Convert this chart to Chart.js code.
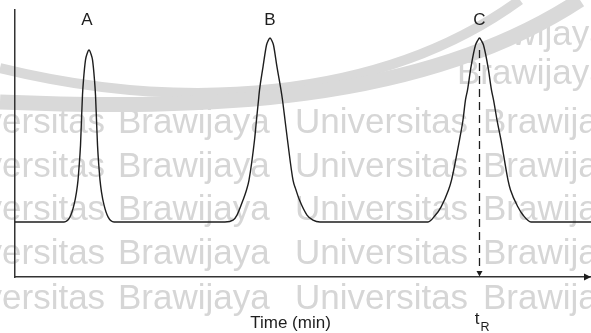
<!DOCTYPE html>
<html><head><meta charset="utf-8">
<script src="https://cdn.jsdelivr.net/npm/chart.js@4.4.1/dist/chart.umd.min.js"></script>
<style>html,body{margin:0;padding:0;background:#fff;overflow:hidden}#wrap{width:591px;height:333px;position:relative}</style>
</head><body><div id="wrap"><canvas id="c" width="591" height="333"></canvas></div>
<script>
// ---- data (time in min, detector signal in arbitrary units) ----
const timeMin = [0,
  1.021,1.146,1.229,1.281,1.313,1.333,1.365,1.385,1.406,1.427,1.469,1.500,1.542,1.583,1.615,1.656,1.677,1.698,1.719,1.750,1.771,1.802,1.854,1.938,2.063,
  4.375,4.542,4.625,4.750,4.823,4.875,4.990,5.031,5.073,5.094,5.167,5.240,5.271,5.313,5.354,5.385,5.458,5.542,5.573,5.625,5.677,5.792,5.854,5.927,6.083,6.208,6.354,
  8.604,8.760,8.875,9.031,9.094,9.260,9.333,9.385,9.427,9.500,9.594,9.635,9.677,9.719,9.760,9.854,9.927,9.969,10.042,10.125,10.271,10.323,10.479,10.583,10.750,
  12];
const signal = [20.6,
  20.6,22.5,27.0,31.8,36.3,40.8,49.4,58.8,68.2,73.8,81.3,83.5,85.0,83.5,81.3,73.8,68.2,58.8,49.4,40.8,36.3,31.8,27.0,22.5,20.6,
  20.6,21.3,23.2,28.8,32.6,36.3,51.3,58.8,66.3,70.0,78.7,86.9,88.4,89.5,88.4,86.9,78.7,70.0,66.3,58.8,51.3,36.3,32.6,28.8,23.2,21.3,20.6,
  20.6,23.2,26.2,32.6,36.3,51.3,58.8,66.3,70.0,78.7,86.9,88.4,89.5,88.4,86.9,78.7,70.0,66.3,58.8,51.3,36.3,32.6,26.2,23.2,20.6,
  20.6];
const peakLabels = ['A','B','C'];
const peakTimes = [1.542, 5.313, 9.677];
const retentionTime = 9.677;         // t_R of peak C
const retentionLineTop = 85;         // signal where dashed marker starts
const axisTitle = 'Time (min)';
const axisTitleTime = 5.74;          // centre of axis title along time axis
const labelSignal = 94.2;            // baseline level of peak letters

const FONT = '"Liberation Sans", Arial, Helvetica, sans-serif';
const INK = '#1e1e1e';

const watermark = {
  id: 'watermark',
  beforeDraw(chart) {
    const ctx = chart.ctx;
    ctx.save();
    ctx.fillStyle = '#fff';
    ctx.fillRect(0, 0, chart.width, chart.height);
    ctx.fillStyle = '#d6d6d6';
    ctx.font = '35px ' + FONT;
    ctx.textBaseline = 'alphabetic';
    for (const yb of [133, 177, 220, 264, 309]) {
      ctx.fillText('Universitas', -68, yb);
      ctx.fillText('Brawijaya', 118, yb);
      ctx.fillText('Universitas', 295, yb);
      ctx.fillText('Brawijaya', 483, yb);
    }
    for (const yb of [45, 84]) ctx.fillText('Brawijaya', 457, yb);
    ctx.fillStyle = '#fff';
    ctx.beginPath();
    ctx.moveTo(0, 0); ctx.lineTo(0, 101);
    ctx.bezierCurveTo(200, 108, 420, 105, 580, 0);
    ctx.closePath(); ctx.fill();
    ctx.strokeStyle = '#d9d9d9';
    ctx.lineWidth = 10;
    ctx.beginPath(); ctx.moveTo(0, 68); ctx.bezierCurveTo(180, 112, 380, 102, 520, 0); ctx.stroke();
    ctx.lineWidth = 15;
    ctx.beginPath(); ctx.moveTo(0, 102); ctx.bezierCurveTo(200, 110, 420, 105, 580, 0); ctx.stroke();
    ctx.restore();
  }
};

const annotations = {
  id: 'annotations',
  afterDraw(chart) {
    const ctx = chart.ctx, xs = chart.scales.x, ys = chart.scales.y, ca = chart.chartArea;
    ctx.save();
    ctx.fillStyle = INK;
    // x axis arrow head
    const ay = ys.getPixelForValue(0);
    ctx.beginPath();
    ctx.moveTo(ca.right, ay); ctx.lineTo(ca.right - 7, ay - 3.5); ctx.lineTo(ca.right - 7, ay + 3.5);
    ctx.closePath(); ctx.fill();
    // dashed marker arrow head
    const rx = xs.getPixelForValue(retentionTime);
    ctx.beginPath();
    ctx.moveTo(rx, ay - 0.5); ctx.lineTo(rx - 3, ay - 6); ctx.lineTo(rx + 3, ay - 6);
    ctx.closePath(); ctx.fill();
    // peak letters
    ctx.font = '17px ' + FONT;
    ctx.textAlign = 'center';
    ctx.textBaseline = 'alphabetic';
    peakLabels.forEach((l, i) => ctx.fillText(l, xs.getPixelForValue(peakTimes[i]) - (i === 0 ? 2 : 0), ys.getPixelForValue(labelSignal)));
    // axis title
    ctx.fillText(axisTitle, xs.getPixelForValue(axisTitleTime), 328);
    // t_R
    ctx.textAlign = 'right';
    ctx.fillText('t', rx, 324);
    ctx.textAlign = 'left';
    ctx.font = '12.5px ' + FONT;
    ctx.fillText('R', rx + 1, 331);
    ctx.restore();
  }
};

new Chart(document.getElementById('c'), {
  type: 'line',
  data: {
    datasets: [
      {
        data: timeMin.map((t, i) => ({x: t, y: signal[i]})),
        borderColor: INK, borderWidth: 1.4, pointRadius: 0,
        cubicInterpolationMode: 'monotone', fill: false
      },
      {
        data: [{x: retentionTime, y: retentionLineTop}, {x: retentionTime, y: 1.5}],
        borderColor: INK, borderWidth: 1.3, borderDash: [8, 5], pointRadius: 0, tension: 0, fill: false
      }
    ]
  },
  options: {
    responsive: false, animation: false, devicePixelRatio: 1,
    layout: {padding: {left: 15, top: 10, right: 0, bottom: 56}},
    plugins: {legend: {display: false}, tooltip: {enabled: false}},
    scales: {
      x: {type: 'linear', min: 0, max: 12, grid: {display: false}, ticks: {display: false},
          border: {display: true, color: '#333', width: 1.5},
          afterFit: s => { s.height = 0; s.paddingLeft = 0; s.paddingRight = 0; }},
      y: {type: 'linear', min: 0, max: 100, grid: {display: false}, ticks: {display: false},
          border: {display: true, color: '#333', width: 1.5},
          afterFit: s => { s.width = 0; s.paddingTop = 0; s.paddingBottom = 0; }}
    }
  },
  plugins: [watermark, annotations]
});
</script>
</body></html>
